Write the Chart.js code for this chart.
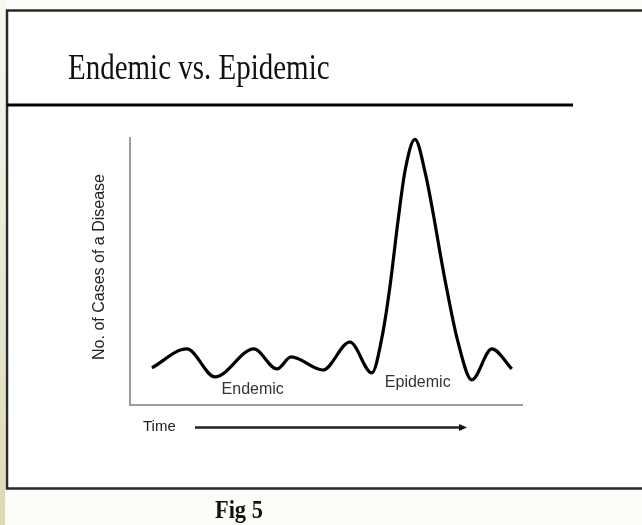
<!DOCTYPE html>
<html>
<head>
<meta charset="utf-8">
<script src="https://cdn.jsdelivr.net/npm/chart.js@4.4.0/dist/chart.umd.min.js"></script>
<style>
  html, body { margin: 0; padding: 0; background: #fbfbf8; }
  #wrap { width: 642px; height: 525px; }
</style>
</head>
<body>
<div id="wrap"><canvas id="c" width="642" height="525"></canvas></div>
<script>
// ---- data ----
const titleText = "Endemic vs. Epidemic";
const figCaption = "Fig 5";
const yAxisLabel = "No. of Cases of a Disease";
const xAxisLabel = "Time";
const phaseLabels = ["Endemic", "Epidemic"];
// time (0..100 along x axis) and number of cases (0..100 along y axis)
const time  = [5.6, 14.5, 21.7, 31.6, 37.5, 41.1, 49.2, 56.1, 61.7, 64.3, 66.3, 68.4, 70.2, 72.7, 75.3, 80.6, 83.6, 87.2, 92.3, 97.4];
const cases = [13.9, 21.0, 10.5, 21.0, 13.5, 18.0, 13.1, 23.6, 12.0, 25.5, 44.2, 69.3, 88.0, 99.5, 87.0, 45.0, 24.0, 9.4, 21.0, 13.5];
// where the phase labels sit (in data units)
const phaseLabelPos = [[31.3, 4.1], [73.4, 6.7]];

const points = time.map((t, i) => ({ x: t, y: cases[i] }));

const decor = {
  id: 'decor',
  beforeDraw(chart) {
    const ctx = chart.ctx;
    ctx.save();
    ctx.fillStyle = '#fbfbf8';
    ctx.fillRect(0, 0, 642, 525);
    const g = ctx.createLinearGradient(0, 0, 0, 525);
    g.addColorStop(0, '#f8f8f1');
    g.addColorStop(1, '#dbdab6');
    ctx.fillStyle = g;
    ctx.fillRect(0, 0, 5, 525);
    ctx.fillStyle = '#ffffff';
    ctx.fillRect(8, 11, 640, 477);
    // frame
    ctx.strokeStyle = '#2a2a2a';
    ctx.lineWidth = 2.5;
    ctx.beginPath();
    ctx.moveTo(650, 10.5);
    ctx.lineTo(7, 10.5);
    ctx.lineTo(7, 488.5);
    ctx.lineTo(650, 488.5);
    ctx.stroke();
    // title underline
    ctx.strokeStyle = '#000';
    ctx.lineWidth = 3;
    ctx.beginPath();
    ctx.moveTo(7, 105);
    ctx.lineTo(573, 105);
    ctx.stroke();
    ctx.restore();
  },
  afterDraw(chart) {
    const ctx = chart.ctx;
    const xs = chart.scales.x, ys = chart.scales.y;
    ctx.save();
    // title
    ctx.fillStyle = '#111';
    ctx.textBaseline = 'alphabetic';
    ctx.textAlign = 'left';
    ctx.save();
    ctx.translate(68, 79);
    ctx.scale(0.805, 1);
    ctx.font = '36px "Liberation Serif", "Times New Roman", serif';
    ctx.fillText(titleText, 0, 0);
    ctx.restore();
    // caption
    ctx.save();
    ctx.translate(215, 518);
    ctx.scale(0.86, 1);
    ctx.font = 'bold 26px "Liberation Serif", "Times New Roman", serif';
    ctx.fillText(figCaption, 0, 0);
    ctx.restore();
    // y label
    ctx.save();
    ctx.translate(100, 267);
    ctx.rotate(-Math.PI / 2);
    ctx.font = '16px "Liberation Sans", Arial, sans-serif';
    ctx.fillStyle = '#222';
    ctx.textAlign = 'center';
    ctx.textBaseline = 'middle';
    ctx.fillText(yAxisLabel, 0, 0);
    ctx.restore();
    // phase labels
    ctx.font = '16px "Liberation Sans", Arial, sans-serif';
    ctx.fillStyle = '#333';
    ctx.textAlign = 'center';
    phaseLabels.forEach((lab, i) => {
      ctx.fillText(lab, xs.getPixelForValue(phaseLabelPos[i][0]), ys.getPixelForValue(phaseLabelPos[i][1]));
    });
    // time label and arrow
    ctx.textAlign = 'left';
    ctx.font = '15px "Liberation Sans", Arial, sans-serif';
    ctx.fillStyle = '#222';
    ctx.fillText(xAxisLabel, 143, 431);
    ctx.strokeStyle = '#222';
    ctx.lineWidth = 2.5;
    ctx.beginPath();
    ctx.moveTo(195, 427.5);
    ctx.lineTo(461, 427.5);
    ctx.stroke();
    ctx.fillStyle = '#111';
    ctx.beginPath();
    ctx.moveTo(467, 427.5);
    ctx.lineTo(459, 424);
    ctx.lineTo(459, 431);
    ctx.closePath();
    ctx.fill();
    ctx.restore();
  }
};

new Chart(document.getElementById('c'), {
  type: 'line',
  data: {
    datasets: [{
      data: points,
      borderColor: '#000',
      borderWidth: 3.2,
      pointRadius: 0,
      cubicInterpolationMode: 'monotone',
      fill: false,
      clip: false
    }]
  },
  options: {
    responsive: false,
    animation: false,
    events: [],
    layout: { padding: { left: 130, right: 120, top: 138, bottom: 120 } },
    plugins: { legend: { display: false }, tooltip: { enabled: false }, title: { display: false } },
    scales: {
      x: {
        type: 'linear', min: 0, max: 100,
        ticks: { display: false },
        grid: { display: false, drawTicks: false },
        border: { display: true, color: '#9c9c9c', width: 2 }
      },
      y: {
        type: 'linear', min: 0, max: 100,
        ticks: { display: false },
        grid: { display: false, drawTicks: false },
        border: { display: true, color: '#9c9c9c', width: 2 }
      }
    }
  },
  plugins: [decor]
});
</script>
</body>
</html>
